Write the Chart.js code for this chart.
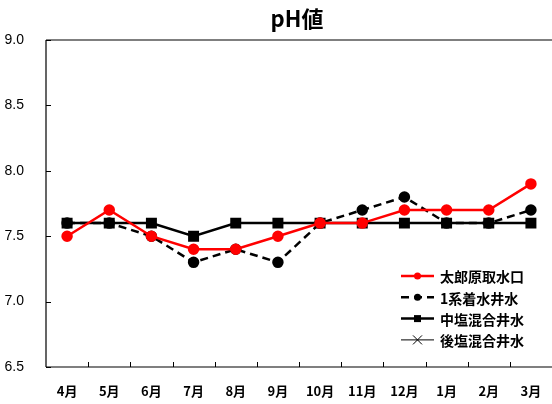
<!DOCTYPE html>
<html>
<head>
<meta charset="utf-8">
<script src="https://cdn.jsdelivr.net/npm/chart.js@4.4.1/dist/chart.umd.min.js"></script>
<style>
  html, body { margin: 0; padding: 0; background: #fff; }
  #wrap { width: 552px; height: 404px; position: relative; }
</style>
</head>
<body>
<div id="wrap"><canvas id="ph"></canvas></div>
<script>
// 月ごとのpH値
var months = ['4月', '5月', '6月', '7月', '8月', '9月', '10月', '11月', '12月', '1月', '2月', '3月'];
var yTicks = [6.5, 7.0, 7.5, 8.0, 8.5, 9.0];

var taroIntake   = [7.5, 7.7, 7.5, 7.4, 7.4, 7.5, 7.6, 7.6, 7.7, 7.7, 7.7, 7.9];
var well1        = [7.6, 7.6, 7.5, 7.3, 7.4, 7.3, 7.6, 7.7, 7.8, 7.6, 7.6, 7.7];
var midChlorine  = [7.6, 7.6, 7.6, 7.5, 7.6, 7.6, 7.6, 7.6, 7.6, 7.6, 7.6, 7.6];
var postChlorine = [7.6, 7.6, 7.6, 7.5, 7.6, 7.6, 7.6, 7.6, 7.6, 7.6, 7.6, 7.6];

var JP = '"Noto Sans CJK JP", sans-serif';

// 枠線・内向き目盛り・タイトル・凡例を描く
var decor = {
    id: 'decor',
    afterDraw: function (chart) {
        var ctx = chart.ctx;
        var a = chart.chartArea;
        var x = chart.scales.x, y = chart.scales.y;
        ctx.save();
        ctx.strokeStyle = '#000';
        ctx.lineWidth = 1.2;
        ctx.beginPath();
        ctx.moveTo(a.left, a.top); ctx.lineTo(a.right, a.top);
        ctx.moveTo(a.left, a.top); ctx.lineTo(a.left, a.bottom);
        ctx.moveTo(a.left, a.bottom); ctx.lineTo(a.right, a.bottom);
        ctx.stroke();

        ctx.lineWidth = 1;
        ctx.beginPath();
        yTicks.forEach(function (v) {
            var py = Math.round(y.getPixelForValue(v)) + 0.5;
            ctx.moveTo(a.left, py); ctx.lineTo(a.left + 5, py);
        });
        for (var i = 1; i < months.length; i++) {
            var px = Math.round((x.getPixelForValue(i - 1) + x.getPixelForValue(i)) / 2) + 0.5;
            ctx.moveTo(px, a.bottom); ctx.lineTo(px, a.bottom - 5);
        }
        ctx.stroke();

        // タイトル
        ctx.fillStyle = '#000';
        ctx.font = 'bold 22px ' + JP;
        ctx.textAlign = 'center';
        ctx.textBaseline = 'middle';
        ctx.fillText('pH値', 297, 19);

        // 凡例
        ctx.font = 'bold 14px ' + JP;
        ctx.textAlign = 'left';
        chart.data.datasets.forEach(function (ds, i) {
            var ly = 276 + i * 21.3;
            var x0 = 401, x1 = 434;
            ctx.strokeStyle = ds.borderColor;
            ctx.lineWidth = ds.borderWidth;
            ctx.setLineDash(ds.borderDash || []);
            ctx.beginPath();
            ctx.moveTo(x0, ly); ctx.lineTo(x1, ly);
            ctx.stroke();
            ctx.setLineDash([]);
            var cx = (x0 + x1) / 2;
            ctx.fillStyle = ds.pointBackgroundColor;
            ctx.strokeStyle = ds.pointBorderColor;
            ctx.lineWidth = 1;
            if (ds.pointStyle === 'circle') {
                ctx.beginPath(); ctx.arc(cx, ly, 3.5, 0, Math.PI * 2); ctx.fill();
            } else if (ds.pointStyle === 'rect') {
                ctx.fillRect(cx - 3.5, ly - 3.5, 7, 7);
            } else {
                ctx.beginPath();
                ctx.moveTo(cx - 4.5, ly - 4.5); ctx.lineTo(cx + 4.5, ly + 4.5);
                ctx.moveTo(cx + 4.5, ly - 4.5); ctx.lineTo(cx - 4.5, ly + 4.5);
                ctx.stroke();
            }
            ctx.fillStyle = '#000';
            ctx.fillText(ds.label, 440, ly + 1);
        });
        ctx.restore();
    }
};

new Chart(document.getElementById('ph'), {
    type: 'line',
    data: {
        labels: months,
        datasets: [{
            label: '太郎原取水口',
            data: taroIntake,
            borderColor: '#ff0000',
            backgroundColor: '#ff0000',
            pointBackgroundColor: '#ff0000',
            pointBorderColor: '#ff0000',
            borderWidth: 2.5,
            pointStyle: 'circle',
            pointRadius: 4.5,
            order: 0
        }, {
            label: '1系着水井水',
            data: well1,
            borderColor: '#000',
            backgroundColor: '#000',
            pointBackgroundColor: '#000',
            pointBorderColor: '#000',
            borderWidth: 2.5,
            borderDash: [8, 5],
            pointStyle: 'circle',
            pointRadius: 4.5,
            order: 2
        }, {
            label: '中塩混合井水',
            data: midChlorine,
            borderColor: '#000',
            backgroundColor: '#000',
            pointBackgroundColor: '#000',
            pointBorderColor: '#000',
            borderWidth: 2.5,
            pointStyle: 'rect',
            pointRadius: 6,
            order: 1
        }, {
            label: '後塩混合井水',
            data: postChlorine,
            borderColor: '#000',
            backgroundColor: '#000',
            pointBackgroundColor: '#000',
            pointBorderColor: '#000',
            borderWidth: 1,
            pointStyle: 'cross',
            pointRotation: 45,
            pointRadius: 5,
            order: 3
        }]
    },
    options: {
        responsive: true,
        maintainAspectRatio: false,
        animation: false,
        layout: { autoPadding: false, padding: { top: 40, right: 0, left: 0, bottom: 0 } },
        plugins: {
            legend: { display: false },
            title: { display: false },
            tooltip: { enabled: false }
        },
        scales: {
            x: {
                offset: true,
                grid: { display: false },
                border: { display: false },
                ticks: {
                    color: '#000',
                    font: { family: JP, size: 13, weight: 'bold' },
                    padding: 8,
                    maxRotation: 0,
                    autoSkip: false
                },
                afterFit: function (s) { s.height = 37; }
            },
            y: {
                min: 6.5,
                max: 9.0,
                grid: { display: false },
                border: { display: false },
                afterBuildTicks: function (s) {
                    s.ticks = yTicks.map(function (v) { return { value: v }; });
                },
                ticks: {
                    color: '#000',
                    font: { family: '"Liberation Sans", Arial, sans-serif', size: 14 },
                    padding: 14,
                    callback: function (v) { return v.toFixed(1); }
                },
                afterFit: function (s) { s.width = 46; }
            }
        }
    },
    plugins: [decor]
});
</script>
</body>
</html>
